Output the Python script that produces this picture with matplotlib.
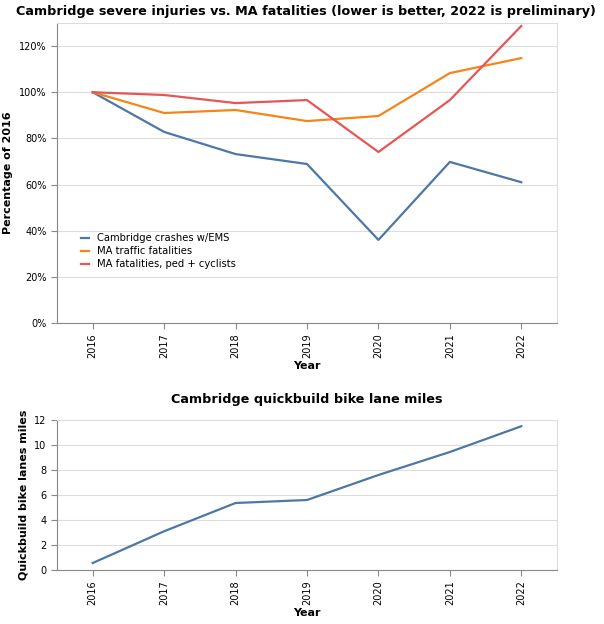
import matplotlib
matplotlib.use("Agg")
import matplotlib.pyplot as plt
from matplotlib.ticker import FuncFormatter

years = ["2016", "2017", "2018", "2019", "2020", "2021", "2022"]
crashes_ems = [100, 82.8, 73.2, 68.9, 36.0, 69.8, 61.0]
ma_traffic = [100, 91.0, 92.3, 87.5, 89.7, 108.3, 114.8]
ma_ped_cyc = [100, 98.8, 95.3, 96.6, 74.1, 96.6, 128.7]
bike_miles = [0.56, 3.1, 5.36, 5.6, 7.6, 9.44, 11.5]

W, H = 604, 624
fig = plt.figure(figsize=(W/100, H/100), dpi=100)
def ax_at(l, t, r, b):
    return fig.add_axes([l/W, 1-b/H, (r-l)/W, (b-t)/H])

def style(ax):
    for s in ["top", "right"]:
        ax.spines[s].set_color("#dddddd")
    for s in ["left", "bottom"]:
        ax.spines[s].set_color("#888888")
    ax.grid(axis="y", color="#dddddd", lw=0.8)
    ax.set_axisbelow(True)
    ax.tick_params(labelsize=7, colors="#000000", length=4, color="#888888")
    ax.set_xlim(-0.5, 6.5)
    ax.set_xticks(range(len(years)))
    ax.set_xticklabels(years, rotation=90)
    ax.set_xlabel("Year", fontsize=8, fontweight="bold", labelpad=2)

x = range(len(years))
ax1 = ax_at(57, 23, 557, 323)
style(ax1)
ax1.plot(x, crashes_ems, color="#4c78a8", lw=1.6, label="Cambridge crashes w/EMS")
ax1.plot(x, ma_traffic, color="#f58518", lw=1.6, label="MA traffic fatalities")
ax1.plot(x, ma_ped_cyc, color="#e45756", lw=1.6, label="MA fatalities, ped + cyclists")
ax1.set_ylim(0, 130)
ax1.set_yticks(range(0, 121, 20))
ax1.yaxis.set_major_formatter(FuncFormatter(lambda v, p: f"{int(v)}%"))
ax1.set_ylabel("Percentage of 2016", fontsize=8, fontweight="bold", labelpad=4)
ax1.legend(loc="lower left", bbox_to_anchor=(0.03, 0.15), frameon=False, fontsize=7.2,
           handlelength=0.8, labelspacing=0.3)
fig.text(306/W, 1-12/H, "Cambridge severe injuries vs. MA fatalities (lower is better, 2022 is preliminary)",
         ha="center", va="center", fontsize=9.2, fontweight="bold")

ax2 = ax_at(57, 420, 557, 570)
style(ax2)
ax2.plot(x, bike_miles, color="#4c78a8", lw=1.6)
ax2.set_ylim(0, 12)
ax2.set_yticks(range(0, 13, 2))
ax2.set_ylabel("Quickbuild bike lanes miles", fontsize=8, fontweight="bold", labelpad=4)
fig.text(307/W, 1-399/H, "Cambridge quickbuild bike lane miles", ha="center", va="center",
         fontsize=9.2, fontweight="bold")

fig.savefig("out.png", dpi=100)
